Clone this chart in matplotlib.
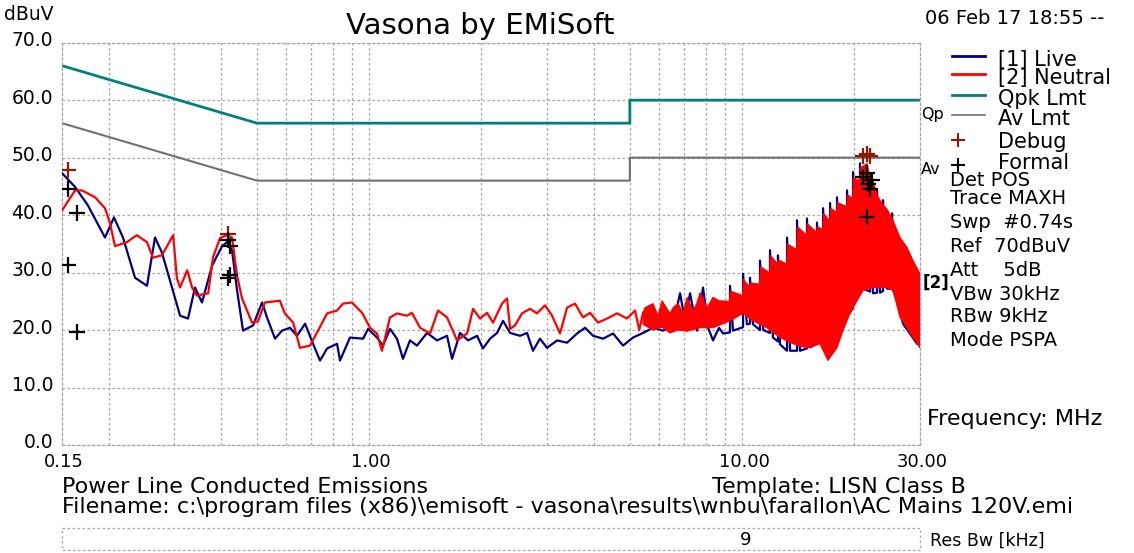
import numpy as np
import matplotlib
matplotlib.use("Agg")
import matplotlib.pyplot as plt

plt.rcParams['font.family'] = ['DejaVu Sans']

# Data (frequency in MHz, level in dBuV)
live_freq = [0.150, 0.1626, 0.176, 0.1956, 0.2068, 0.2186, 0.2355, 0.2535, 0.2664, 0.278,
             0.311, 0.3266, 0.341, 0.356, 0.379, 0.403, 0.4155, 0.4286, 0.442, 0.4587,
             0.488, 0.516, 0.532, 0.559, 0.5836, 0.613, 0.640, 0.673, 0.707, 0.738,
             0.771, 0.820, 0.835, 0.888, 0.963, 0.993, 1.049, 1.089, 1.137, 1.187,
             1.232, 1.286, 1.343, 1.429, 1.520, 1.617, 1.668, 1.752, 1.841, 1.946,
             2.019, 2.109, 2.202, 2.285, 2.387, 2.538, 2.650, 2.749, 2.871, 2.998,
             3.191, 3.393, 3.609, 3.792, 3.984, 4.238, 4.508, 4.794, 5.100, 5.424,
             5.769, 6.138, 6.528, 6.817, 7.031, 7.251, 7.572, 7.857, 8.105, 8.357,
             8.672, 8.889, 9.281, 9.281, 9.455, 10.06, 10.06, 10.30, 10.50, 10.50,
             10.70, 11.17, 11.17, 11.40, 11.88, 11.88, 12.10, 12.48, 12.48, 12.64,
             13.20, 13.20, 13.45, 14.04, 14.04, 14.30, 14.93, 14.93, 15.21, 15.88,
             15.88, 16.18, 16.49, 16.49, 16.99, 17.22, 17.22, 17.53, 17.97, 17.97,
             18.32, 19.12, 19.12, 19.47, 19.84, 19.84, 20.34, 20.71, 20.71, 21.10,
             22.04, 22.04, 22.45, 23.01, 23.01, 23.44, 23.88, 23.88, 24.48, 25.24,
             25.24, 25.40, 26.03, 27.02, 28.20, 29.46, 30.0]
live_val = [47.3, 44.9, 41.7, 36.1, 39.6, 36.1, 29.1, 27.7, 36.1, 33.5,
            22.5, 22.0, 27.4, 24.8, 31.2, 34.6, 35.3, 33.9, 27.0, 19.9,
            20.8, 24.8, 22.2, 18.5, 19.9, 20.4, 19.0, 21.1, 17.6, 14.7,
            16.8, 17.6, 14.7, 18.7, 18.5, 20.2, 18.7, 17.3, 20.2, 18.5,
            15.0, 18.2, 17.3, 19.5, 18.2, 19.0, 15.0, 19.5, 18.2, 19.0,
            16.8, 18.5, 19.5, 21.6, 19.5, 19.0, 19.5, 16.4, 18.5, 16.9,
            18.2, 17.8, 19.4, 20.4, 19.0, 18.5, 19.4, 17.3, 18.7, 19.5,
            20.4, 19.9, 20.8, 26.4, 21.6, 26.4, 19.9, 27.4, 20.4, 18.2,
            20.4, 19.4, 19.6, 27.7, 19.9, 20.5, 29.8, 21.0, 21.1, 29.1,
            21.0, 20.0, 32.1, 20.0, 19.5, 33.9, 18.7, 18.0, 33.0, 17.5,
            16.4, 36.1, 16.4, 16.4, 39.1, 16.4, 16.8, 39.4, 17.0, 17.6,
            38.7, 17.8, 18.2, 41.2, 18.5, 19.0, 42.1, 19.5, 20.2, 43.1,
            20.8, 22.5, 44.3, 23.0, 23.9, 47.5, 25.5, 27.4, 49.0, 27.2,
            26.7, 47.3, 26.4, 26.5, 44.3, 26.5, 26.8, 42.6, 27.2, 27.2,
            40.3, 27.0, 25.1, 21.1, 19.4, 17.6, 19.9]

neutral_freq = [0.150, 0.1626, 0.1697, 0.184, 0.1956, 0.2018, 0.208, 0.224, 0.238, 0.2535,
                0.263, 0.278, 0.298, 0.305, 0.311, 0.325, 0.335, 0.345, 0.370, 0.381,
                0.398, 0.4155, 0.4286, 0.442, 0.456, 0.485, 0.503, 0.525, 0.576, 0.594,
                0.625, 0.652, 0.694, 0.729, 0.771, 0.820, 0.851, 0.899, 0.957, 1.005,
                1.049, 1.082, 1.137, 1.187, 1.263, 1.302, 1.369, 1.456, 1.530, 1.617,
                1.720, 1.830, 1.899, 1.982, 2.070, 2.148, 2.271, 2.342, 2.387, 2.460,
                2.569, 2.699, 2.818, 2.961, 3.093, 3.249, 3.393, 3.564, 3.745, 3.911,
                4.109, 4.344, 4.621, 4.911, 5.164, 5.30, 5.424]
neutral_val = [40.8, 44.3, 44.3, 43.1, 41.2, 38.6, 34.6, 35.3, 36.5, 35.3,
               32.6, 33.0, 36.5, 29.0, 27.4, 30.4, 27.4, 26.0, 26.4, 32.6,
               36.0, 36.5, 36.1, 29.5, 25.5, 21.3, 21.5, 24.8, 25.1, 22.9,
               21.3, 16.9, 17.3, 19.9, 22.9, 23.4, 24.6, 24.8, 23.0, 20.4,
               19.4, 16.4, 22.2, 22.9, 22.5, 23.0, 20.4, 19.4, 23.4, 22.2,
               18.2, 19.4, 23.7, 22.0, 23.0, 21.3, 24.6, 25.5, 20.2, 20.8,
               22.9, 23.7, 22.9, 24.3, 22.5, 19.4, 23.9, 24.6, 22.2, 23.0,
               21.3, 22.0, 22.9, 22.0, 23.4, 20.0, 23.0]

# neutral trace above ~5.4 MHz sweeps too densely to resolve: upper / lower envelope
neutral_hi_freq = [5.424, 5.492, 5.769, 5.95, 6.100, 6.408, 6.55, 6.732, 6.95, 7.119,
                   7.387, 7.55, 7.713, 8.055, 8.357, 8.672, 9.25,
                   9.30, 10.03, 10.08, 10.47, 10.52, 11.14, 11.20, 11.85, 11.91, 12.45,
                   12.51, 13.17, 13.23, 14.00, 14.08, 14.90, 14.97, 15.85, 15.92, 16.45,
                   16.53, 17.18, 17.26, 17.93, 18.01, 19.08, 19.16, 19.80, 19.88, 20.67,
                   20.75, 21.63, 22.00, 22.45, 23.01, 23.44, 23.88, 24.48, 25.24, 26.52,
                   27.69, 28.73, 30.0]
neutral_hi_val = [23.0, 23.9, 24.6, 22.5, 25.1, 22.9, 24.0, 24.6, 23.0, 25.7,
                  23.4, 24.5, 26.5, 23.9, 25.7, 25.1, 25.0,
                  26.8, 26.0, 28.8, 27.5, 28.2, 28.0, 31.0, 30.0, 33.0, 31.5,
                  32.2, 31.5, 35.0, 34.0, 38.0, 36.5, 38.5, 37.0, 38.0, 37.5,
                  40.3, 39.0, 41.2, 40.5, 42.2, 41.5, 43.5, 43.0, 46.5, 46.0,
                  48.2, 49.0, 46.5, 46.0, 43.5, 42.6, 41.8, 41.0, 39.5, 36.1,
                  34.4, 32.1, 29.8]
neutral_lo_freq = [5.424, 5.769, 6.100, 6.408, 6.732, 7.119, 7.713, 8.357, 9.281, 10.06,
                   10.70, 11.66, 12.64, 13.70, 14.93, 16.18, 16.99, 17.97, 18.65, 19.47,
                   20.34, 21.10, 22.45, 24.48, 25.40, 26.52, 27.69, 28.73, 30.0]
neutral_lo_val = [21.0, 20.0, 20.5, 19.5, 20.0, 19.8, 20.4, 20.4, 21.6, 22.9,
                  21.6, 20.4, 18.7, 17.6, 16.9, 17.6, 14.7, 16.9, 19.9, 22.9,
                  25.1, 26.9, 27.4, 27.4, 26.9, 22.2, 20.4, 18.7, 16.9]

qpk_freq = [0.15, 0.5, 5.0, 5.0, 30.0]
qpk_val = [66, 56, 56, 60, 60]
av_freq = [0.15, 0.5, 5.0, 5.0, 30.0]
av_val = [56, 46, 46, 50, 50]

debug_freq = [0.1557, 0.418, 21.1, 21.6, 22.0]
debug_val = [47.8, 36.8, 50.3, 50.7, 50.3]
formal_freq = [0.1557, 0.1644, 0.1557, 0.1644, 0.418, 0.423, 0.418, 0.423,
               21.1, 21.6, 21.7, 22.0, 22.3, 21.6]
formal_val = [44.5, 40.3, 31.4, 19.7, 35.6, 34.6, 29.1, 29.6,
              46.6, 47.3, 45.5, 44.5, 46.1, 39.6]

y_ticks = [0, 10, 20, 30, 40, 50, 60, 70]
x_ticks = [0.15, 1.0, 10.0, 30.0]
x_ticklabels = ["0.15", "1.00", "10.00", "30.00"]
grid_x = [0.2, 0.3, 0.4, 0.5, 0.6, 0.7, 0.8, 0.9, 1, 2, 3, 4, 5, 6, 7, 8, 9, 10, 20]

info_lines = ["Det POS", "Trace MAXH", "Swp  #0.74s", "Ref  70dBuV", "Att    5dB",
              "VBw 30kHz", "RBw 9kHz", "Mode PSPA"]

NAVY = "#000080"
RED = "#ff0000"
TEAL = "#008080"
GRAY = "#707070"
GRID = "#aaa2aa"

fig = plt.figure(figsize=(11.34, 5.53), dpi=100)
W, H = 1134, 553
ax = fig.add_axes([62 / W, 1 - 445 / H, (920 - 62) / W, (445 - 42.7) / H])
ax.set_xscale('log')
ax.set_xlim(0.15, 30)
ax.set_ylim(0, 70)

# grid
for gx in grid_x:
    ax.axvline(gx, color=GRID, lw=0.9, ls=(0, (2, 2)), zorder=0)
for gy in y_ticks:
    ax.axhline(gy, color=GRID, lw=0.9, ls=(0, (2, 2)), zorder=0)
for s in ax.spines.values():
    s.set_color(GRID)
    s.set_linestyle((0, (2, 2)))
    s.set_linewidth(0.9)
ax.set_xticks([])
ax.set_yticks([])
ax.minorticks_off()
ax.tick_params(which='both', length=0, labelbottom=False, labelleft=False)

# limits
ax.plot(qpk_freq, qpk_val, color=TEAL, lw=2, zorder=2)
ax.plot(av_freq, av_val, color=GRAY, lw=1.5, zorder=2)

# traces (neutral drawn over live)
ax.plot(live_freq, live_val, color=NAVY, lw=1.6, zorder=3)
ax.fill(np.r_[neutral_hi_freq, neutral_lo_freq[::-1]],
        np.r_[neutral_hi_val, neutral_lo_val[::-1]], color=RED, lw=0.8, ec=RED, zorder=4)
ax.plot(neutral_freq, neutral_val, color=RED, lw=1.6, zorder=4)

ax.plot(debug_freq, debug_val, '+', color="#8b1a00", ms=11, mew=1.6, zorder=5)
ax.plot(formal_freq, formal_val, '+', color="black", ms=11, mew=1.6, zorder=6)

# overlay in pixel coordinates for all annotation text
ov = fig.add_axes([0, 0, 1, 1])
ov.set_xlim(0, W)
ov.set_ylim(H, 0)
ov.axis('off')

ov.text(4, 15, "dBuV", fontsize=13.5, va='center', ha='left')
for v in y_ticks:
    yp = 445 - v * (445 - 42.7) / 70
    ov.text(53, yp - 2, f"{v:.1f}", fontsize=13.5, va='center', ha='right')

for xv, lab in zip(x_ticks, x_ticklabels):
    xp = 62 + np.log10(xv / 0.15) / np.log10(200) * (920 - 62)
    ov.text(xp + 2, 462, lab, fontsize=13, va='center', ha='center')

ov.text(480, 26, "Vasona by EMiSoft", fontsize=21, va='center', ha='center')
ov.text(925, 19, "06 Feb 17 18:55 --", fontsize=14, va='center', ha='left')

# legend
leg = [("[1] Live", NAVY, 60), ("[2] Neutral", RED, 78), ("Qpk Lmt", TEAL, 99), ("Av Lmt", GRAY, 119)]
for lab, c, yy in leg:
    ov.plot([952, 985], [yy - 4, yy - 4], color=c, lw=2 if c != GRAY else 1.2)
    ov.text(998, yy, lab, fontsize=15, va='center', ha='left')
ov.plot([958], [140], '+', color="#8b1a00", ms=10, mew=1.5)
ov.text(998, 142, "Debug", fontsize=15, va='center', ha='left')
ov.plot([958], [165], '+', color="black", ms=10, mew=1.5)
ov.text(998, 163, "Formal", fontsize=15, va='center', ha='left')

ov.text(921, 115, "Qp", fontsize=11.5, va='center', ha='left')
ov.text(921, 170, "Av", fontsize=11.5, va='center', ha='left')
ov.text(923, 283, "[2]", fontsize=12, va='center', ha='left', fontweight='bold')

for i, line in enumerate(info_lines):
    ov.text(950, [180, 199, 223, 247, 270, 294, 317, 341][i], line,
            fontsize=14, va='center', ha='left')

ov.text(927, 419, "Frequency: MHz", fontsize=16, va='center', ha='left')

ov.text(62, 487, "Power Line Conducted Emissions", fontsize=16, va='center', ha='left')
ov.text(712, 487, "Template: LISN Class B", fontsize=16, va='center', ha='left')
ov.text(62, 507, "Filename: c:\\program files (x86)\\emisoft - vasona\\results\\wnbu\\farallon\\AC Mains 120V.emi",
        fontsize=16, va='center', ha='left')

ov.add_patch(plt.Rectangle((62, 528), 858, 22, fill=False, ec=GRID, lw=0.9, ls=(0, (2, 2))))
ov.text(746, 540, "9", fontsize=13, va='center', ha='center')
ov.text(930, 541, "Res Bw [kHz]", fontsize=12.5, va='center', ha='left')

fig.savefig("out.png", dpi=100)
